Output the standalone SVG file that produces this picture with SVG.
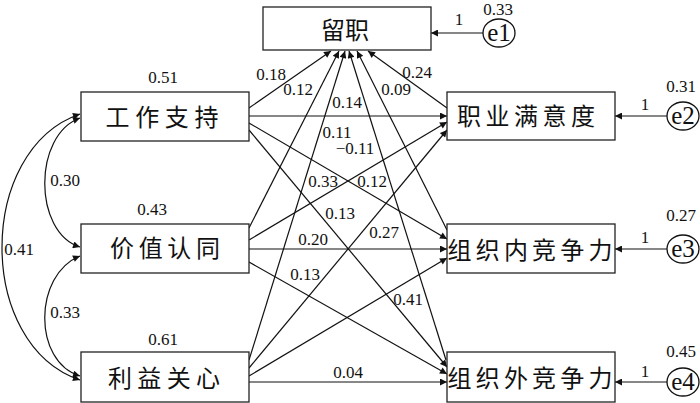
<svg xmlns="http://www.w3.org/2000/svg" width="700" height="403" viewBox="0 0 700 403">
<defs>
<marker id="ah" viewBox="0 0 10 10" refX="10" refY="5" markerWidth="9" markerHeight="7" markerUnits="userSpaceOnUse" orient="auto-start-reverse"><path d="M0,0 L10,5 L0,10 z" fill="#111"/></marker>
<style>
.box{fill:#fff;stroke:#222;stroke-width:1.3}
.err{fill:#fff;stroke:#111;stroke-width:1.3}
.cn{font-family:"Noto Sans CJK SC",sans-serif;font-size:24px;font-weight:400;fill:#111;text-anchor:middle}
.num{font-family:"Liberation Serif","Times New Roman","DejaVu Serif",serif;font-size:17px;fill:#111;text-anchor:middle}
.e{font-family:"Liberation Serif","Times New Roman","DejaVu Serif",serif;font-size:25px;fill:#111;text-anchor:middle}
.c path{fill:none;stroke:#111;stroke-width:1.2;marker-end:url(#ah)}
.c path.dbl{marker-start:url(#ah)}
</style>
</defs>
<rect width="700" height="403" fill="#fff"/>
<g class="c" id="connectors">
<path d="M249,108 L331,51"/>
<path d="M249,116 L447,116"/>
<path d="M249,123 L447,239"/>
<path d="M249,130 L447,367"/>
<path d="M249,228 L339,51"/>
<path d="M249,240 L447,122"/>
<path d="M249,249 L447,249"/>
<path d="M249,262 L447,374"/>
<path d="M249,360 L345,51"/>
<path d="M249,368 L447,130"/>
<path d="M249,376 L447,258"/>
<path d="M249,382 L447,382"/>
<path d="M447,108 L368,51"/>
<path d="M447,230 L357,51"/>
<path d="M446,360 L349,51"/>
<path d="M483,33 L431,33"/>
<path d="M667,116 L615,116"/>
<path d="M667,249 L615,249"/>
<path d="M667,382 L615,382"/>
<path class="dbl" d="M80,118 C33,135 33,232 80,247"/>
<path class="dbl" d="M80,256 C33,275 33,362 80,376"/>
<path class="dbl" d="M80,114 C-24,150 -24,345 80,380"/>
</g>
<g id="labels">
<text class="num" x="271" y="80">0.18</text>
<text class="num" x="298" y="95">0.12</text>
<text class="num" x="347" y="108">0.14</text>
<text class="num" x="396" y="95">0.09</text>
<text class="num" x="417" y="78">0.24</text>
<text class="num" x="337" y="138">0.11</text>
<text class="num" x="355" y="154">−0.11</text>
<text class="num" x="323" y="187">0.33</text>
<text class="num" x="372" y="187">0.12</text>
<text class="num" x="340" y="219">0.13</text>
<text class="num" x="384" y="238">0.27</text>
<text class="num" x="313" y="245">0.20</text>
<text class="num" x="305" y="280">0.13</text>
<text class="num" x="408" y="305">0.41</text>
<text class="num" x="348" y="378">0.04</text>
<text class="num" x="163" y="83">0.51</text>
<text class="num" x="152" y="215">0.43</text>
<text class="num" x="163" y="345">0.61</text>
<text class="num" x="65" y="186">0.30</text>
<text class="num" x="19" y="255">0.41</text>
<text class="num" x="65" y="318">0.33</text>
<text class="num" x="459" y="25">1</text>
<text class="num" x="645" y="110">1</text>
<text class="num" x="645" y="243">1</text>
<text class="num" x="645" y="377">1</text>
</g>
<g id="n_liuzhi"><rect class="box" x="263" y="7" width="168" height="43"/><text class="cn" x="345" y="39" textLength="48">留职</text></g>
<g id="n_gzzc"><rect class="box" x="81" y="92" width="168" height="49"/><text class="cn" x="162" y="126" textLength="113">工作支持</text></g>
<g id="n_jzrt"><rect class="box" x="81" y="224" width="168" height="49"/><text class="cn" x="165" y="257" textLength="110">价值认同</text></g>
<g id="n_lygx"><rect class="box" x="81" y="352" width="168" height="50"/><text class="cn" x="164" y="387" textLength="112">利益关心</text></g>
<g id="n_zymyd"><rect class="box" x="447" y="92" width="168" height="48"/><text class="cn" x="526" y="125" textLength="138">职业满意度</text></g>
<g id="n_zznjzl"><rect class="box" x="447" y="224" width="168" height="49"/><text class="cn" x="530" y="259" textLength="165">组织内竞争力</text></g>
<g id="n_zzwjzl"><rect class="box" x="447" y="352" width="168" height="50"/><text class="cn" x="530" y="387" textLength="165">组织外竞争力</text></g>
<g id="n_e1"><ellipse class="err" cx="499" cy="33" rx="16" ry="14"/><text class="e" x="499" y="41">e1</text><text class="num" x="498" y="15">0.33</text></g>
<g id="n_e2"><ellipse class="err" cx="683" cy="116" rx="16" ry="14"/><text class="e" x="683" y="124">e2</text><text class="num" x="681" y="92">0.31</text></g>
<g id="n_e3"><ellipse class="err" cx="683" cy="249" rx="16" ry="14"/><text class="e" x="683" y="257">e3</text><text class="num" x="681" y="221">0.27</text></g>
<g id="n_e4"><ellipse class="err" cx="683" cy="382" rx="16" ry="14"/><text class="e" x="683" y="390">e4</text><text class="num" x="681" y="357">0.45</text></g>
</svg>
